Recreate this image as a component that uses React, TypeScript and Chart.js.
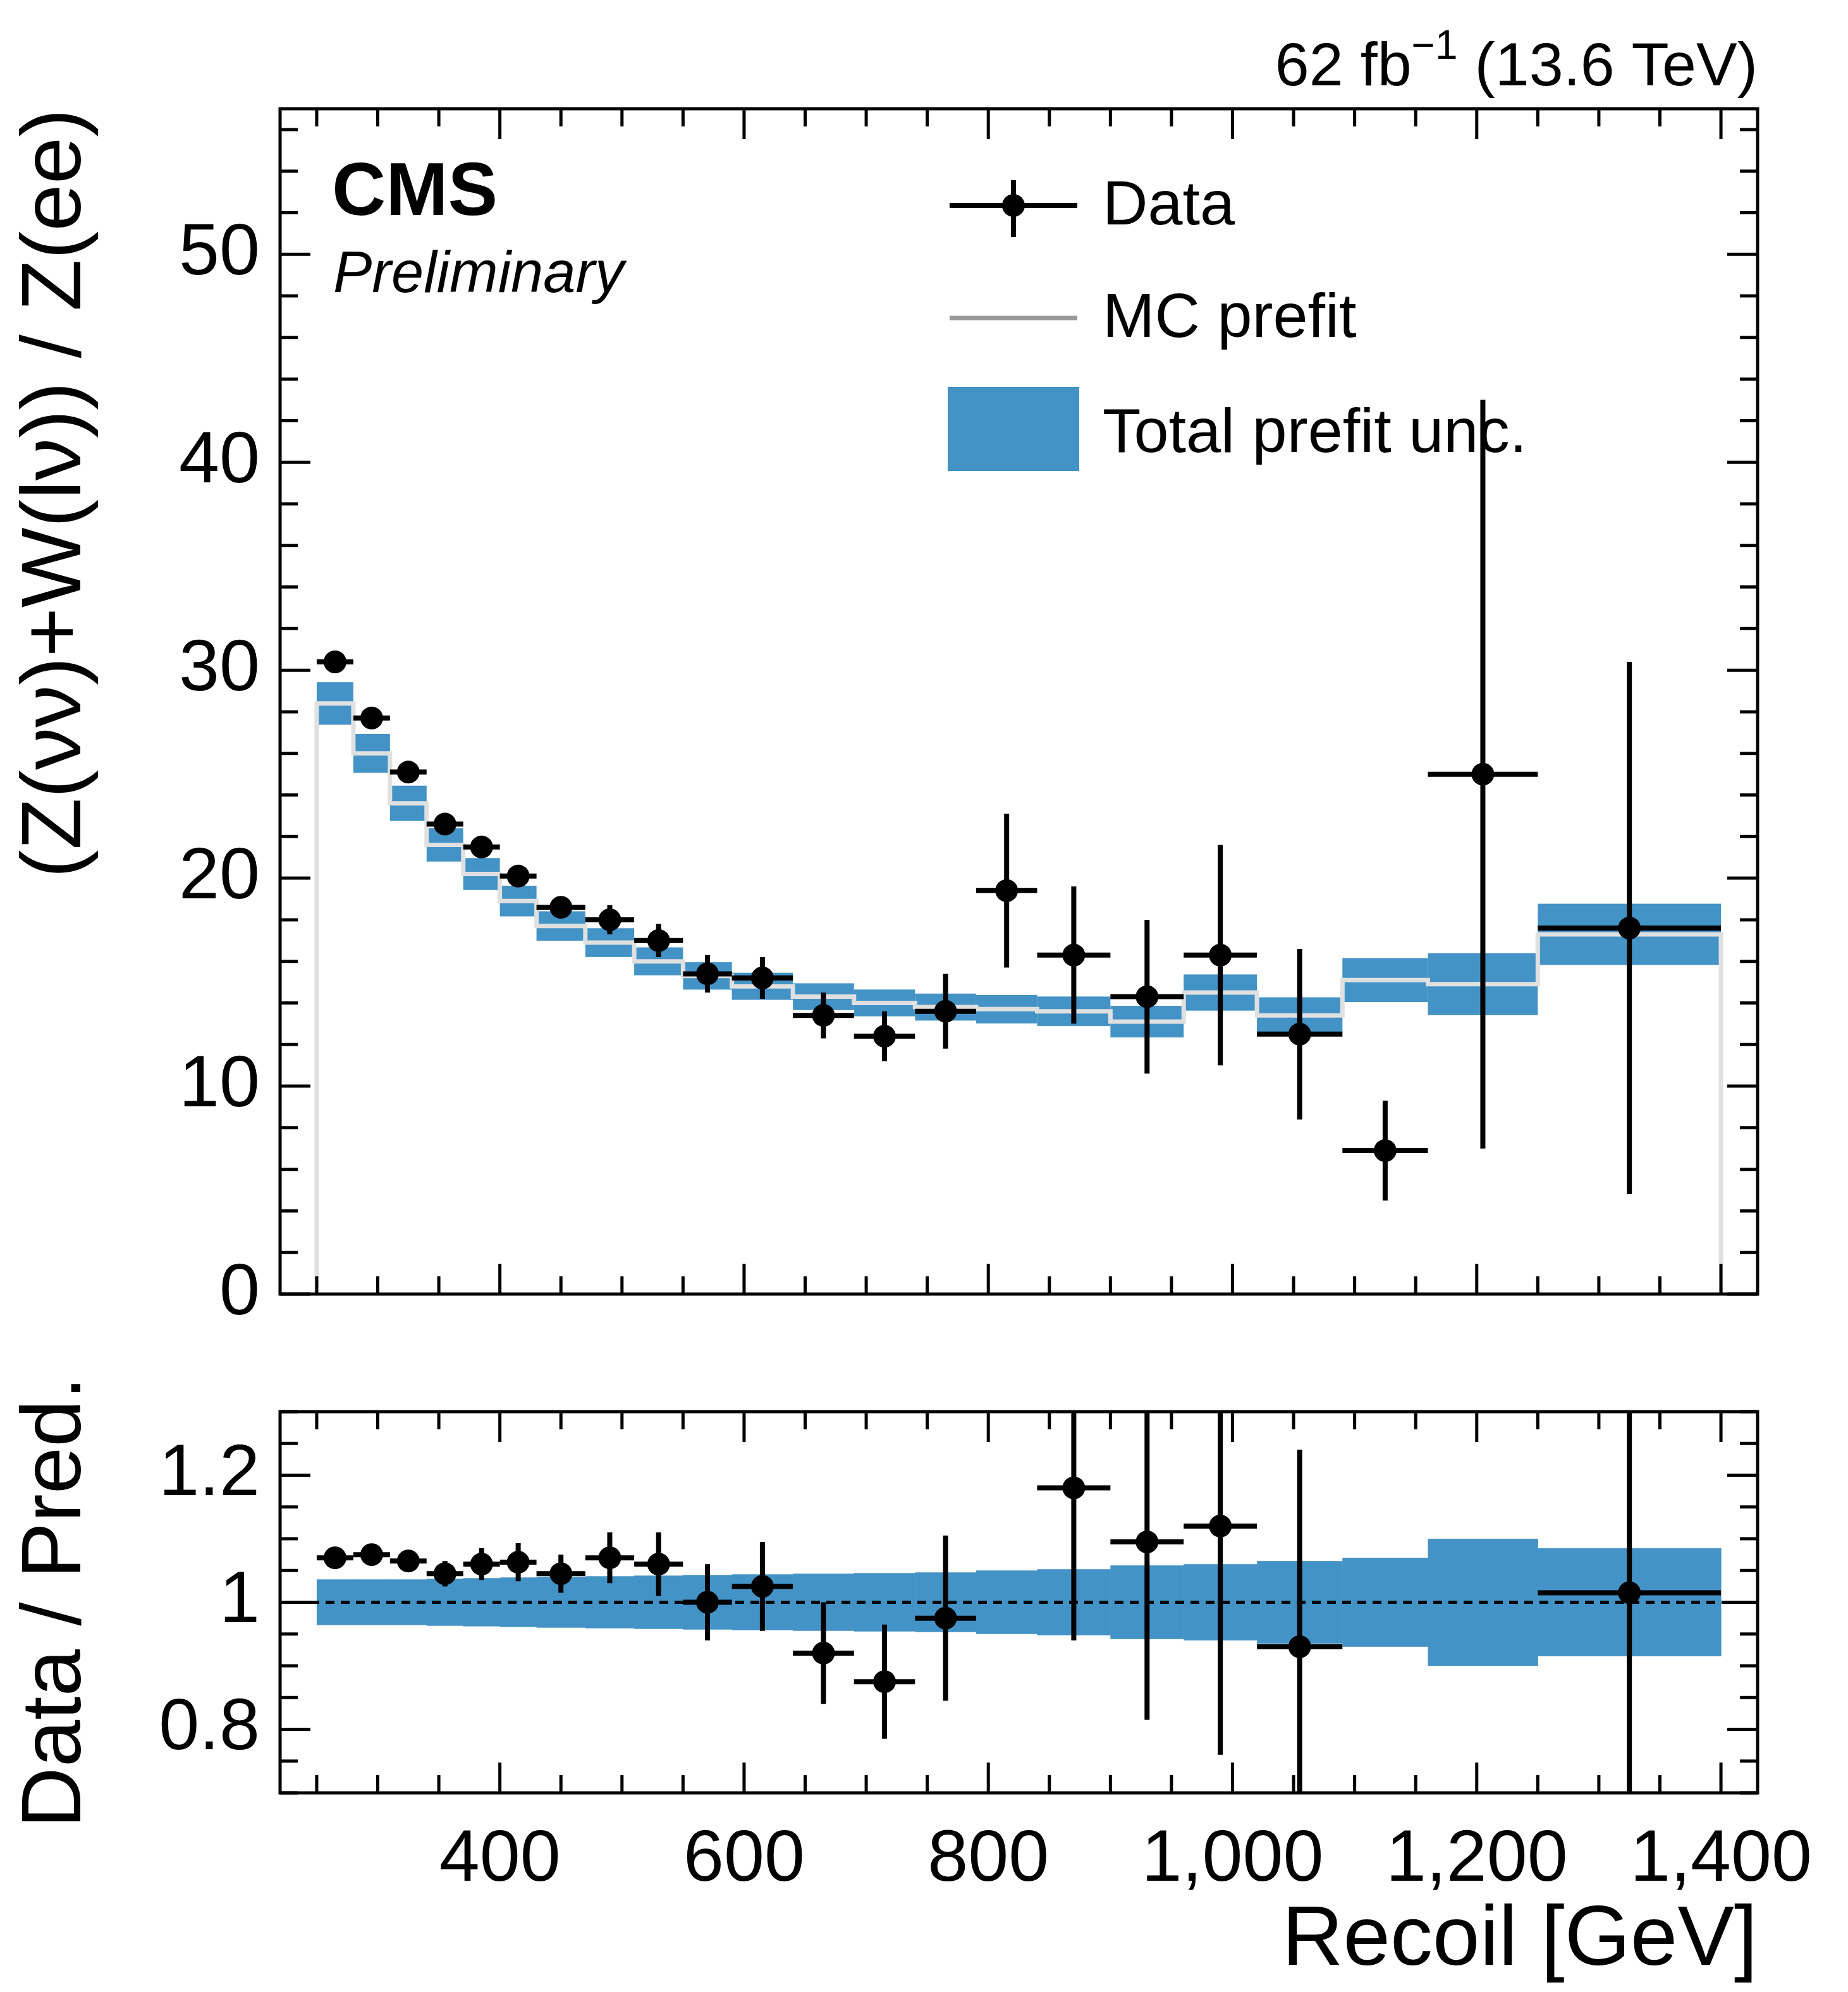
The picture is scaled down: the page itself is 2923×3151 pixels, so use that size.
import React, { useEffect, useRef } from "react";
import { Chart, registerables } from "chart.js";
Chart.register(...registerables);

const binEdges = [250, 280, 310, 340, 370, 400, 430, 470, 510, 550, 590, 640, 690, 740, 790, 840, 900, 960, 1020, 1090, 1160, 1250, 1400];
const dataValues = [30.4, 27.7, 25.1, 22.6, 21.5, 20.1, 18.6, 18.0, 17.0, 15.4, 15.2, 13.4, 12.4, 13.6, 19.4, 16.3, 14.3, 16.3, 12.5, 6.9, 25.0, 17.6];
const dataErrors = [0.3, 0.3, 0.3, 0.4, 0.4, 0.5, 0.5, 0.7, 0.8, 0.9, 1.0, 1.1, 1.2, 1.8, 3.7, 3.3, 3.7, 5.3, 4.1, 2.4, 18.0, 12.8];
const mcPrefit = [28.4, 26.0, 23.6, 21.6, 20.2, 18.9, 17.7, 16.9, 16.0, 15.3, 14.8, 14.3, 14.0, 13.8, 13.7, 13.6, 13.1, 14.5, 13.4, 15.1, 14.9, 17.3];
const relUnc = [0.036, 0.036, 0.036, 0.037, 0.038, 0.039, 0.04, 0.041, 0.042, 0.043, 0.044, 0.045, 0.046, 0.047, 0.05, 0.052, 0.058, 0.06, 0.065, 0.07, 0.1, 0.085];
const ratioValues = [1.07, 1.075, 1.065, 1.045, 1.06, 1.063, 1.045, 1.07, 1.06, 1.0, 1.025, 0.92, 0.875, 0.975, null, 1.18, 1.095, 1.12, 0.93, null, null, 1.015];
const ratioErrors = [0.01, 0.01, 0.012, 0.02, 0.025, 0.03, 0.03, 0.04, 0.05, 0.06, 0.07, 0.08, 0.09, 0.13, 0, 0.24, 0.28, 0.36, 0.31, 0, 0, 0.72];
const upperTicks = [0, 10, 20, 30, 40, 50];
const lowerTicks = [0.8, 1.0, 1.2];
const xTicks = [400, 600, 800, 1000, 1200, 1400];

const W = 2923, H = 3151;
const LEFT = 443, RIGHT_PAD = 143;
const UP_TOP = 172, SPLIT = 2140;
const UP_XH = 45, LO_PADTOP = 34, LO_XH = 315;
const FONT = "'Liberation Sans', Arial, sans-serif";
const BLUE = "#4393c6";

function frameTicks(chart: any, xMinor: number, xMajor: number, yMinor: number, yMajor: number) {
  const ctx = chart.ctx, a = chart.chartArea, xs = chart.scales.x, ys = chart.scales.y;
  ctx.save();
  ctx.strokeStyle = "#000";
  ctx.lineWidth = 5;
  const eps = 1e-6;
  for (let v = Math.ceil(xs.min / xMinor) * xMinor; v <= xs.max + eps; v += xMinor) {
    const px = xs.getPixelForValue(v);
    const major = Math.abs(v / xMajor - Math.round(v / xMajor)) < eps;
    const len = major ? 48 : 28;
    ctx.beginPath(); ctx.moveTo(px, a.bottom); ctx.lineTo(px, a.bottom - len);
    ctx.moveTo(px, a.top); ctx.lineTo(px, a.top + len); ctx.stroke();
  }
  for (let v = Math.ceil(ys.min / yMinor - eps) * yMinor; v <= ys.max + eps; v += yMinor) {
    const py = ys.getPixelForValue(v);
    const major = Math.abs(v / yMajor - Math.round(v / yMajor)) < 1e-4;
    const len = major ? 48 : 28;
    ctx.beginPath(); ctx.moveTo(a.left, py); ctx.lineTo(a.left + len, py);
    ctx.moveTo(a.right, py); ctx.lineTo(a.right - len, py); ctx.stroke();
  }
  ctx.strokeRect(a.left, a.top, a.right - a.left, a.bottom - a.top);
  ctx.restore();
}

function drawErrors(chart: any, vals: (number | null)[], errs: number[]) {
  const ctx = chart.ctx, xs = chart.scales.x, ys = chart.scales.y, a = chart.chartArea;
  ctx.save();
  ctx.beginPath(); ctx.rect(a.left, a.top, a.right - a.left, a.bottom - a.top); ctx.clip();
  ctx.strokeStyle = "#000"; ctx.fillStyle = "#000"; ctx.lineWidth = 8;
  vals.forEach((v, i) => {
    if (v === null) return;
    const x0 = xs.getPixelForValue(binEdges[i]), x1 = xs.getPixelForValue(binEdges[i + 1]);
    const xc = xs.getPixelForValue((binEdges[i] + binEdges[i + 1]) / 2);
    const y = ys.getPixelForValue(v);
    ctx.beginPath();
    ctx.moveTo(x0, y); ctx.lineTo(x1, y);
    ctx.moveTo(xc, ys.getPixelForValue(v - errs[i])); ctx.lineTo(xc, ys.getPixelForValue(v + errs[i]));
    ctx.stroke();
    ctx.beginPath(); ctx.arc(xc, y, 18, 0, Math.PI * 2); ctx.fill();
  });
  ctx.restore();
}

const upperPlugin = {
  id: "upperDraw",
  beforeDatasetsDraw(chart: any) {
    const ctx = chart.ctx, xs = chart.scales.x, ys = chart.scales.y;
    ctx.save();
    ctx.fillStyle = BLUE;
    mcPrefit.forEach((m, i) => {
      const x0 = xs.getPixelForValue(binEdges[i]), x1 = xs.getPixelForValue(binEdges[i + 1]);
      const yt = ys.getPixelForValue(m * (1 + relUnc[i])), yb = ys.getPixelForValue(m * (1 - relUnc[i]));
      ctx.fillRect(x0, yt, x1 - x0, yb - yt);
    });
    ctx.restore();
  },
  afterDatasetsDraw(chart: any) {
    drawErrors(chart, dataValues, dataErrors);
    frameTicks(chart, 50, 200, 2, 10);
    const ctx = chart.ctx, a = chart.chartArea;
    ctx.save();
    ctx.fillStyle = "#000";
    ctx.textBaseline = "alphabetic";
    ctx.font = `bold 118px ${FONT}`;
    ctx.fillText("CMS", 525, 340);
    ctx.font = `italic 92px ${FONT}`;
    ctx.fillText("Preliminary", 527, 462);
    const t1 = "62 fb", t3 = " (13.6 TeV)";
    ctx.font = `64px ${FONT}`;
    const wsup = ctx.measureText("\u22121").width;
    ctx.font = `97px ${FONT}`;
    const w1 = ctx.measureText(t1).width, w3 = ctx.measureText(t3).width;
    let x = a.right - (w1 + wsup + w3);
    const by = 135;
    ctx.fillText(t1, x, by); x += w1;
    ctx.font = `64px ${FONT}`; ctx.fillText("\u22121", x, by - 42); x += wsup;
    ctx.font = `97px ${FONT}`; ctx.fillText(t3, x, by);
    const lx0 = 1502, lx1 = 1704, tx = 1744;
    ctx.strokeStyle = "#000"; ctx.lineWidth = 8;
    ctx.beginPath(); ctx.moveTo(lx0, 325); ctx.lineTo(lx1, 325);
    ctx.moveTo((lx0 + lx1) / 2, 285); ctx.lineTo((lx0 + lx1) / 2, 375); ctx.stroke();
    ctx.beginPath(); ctx.arc((lx0 + lx1) / 2, 325, 18, 0, Math.PI * 2); ctx.fill();
    ctx.strokeStyle = "#999"; ctx.lineWidth = 7;
    ctx.beginPath(); ctx.moveTo(lx0, 503); ctx.lineTo(lx1, 503); ctx.stroke();
    ctx.fillStyle = BLUE; ctx.fillRect(lx0 - 3, 612, 208, 133);
    ctx.fillStyle = "#000"; ctx.font = `99px ${FONT}`; ctx.textBaseline = "middle";
    ctx.fillText("Data", tx, 328);
    ctx.fillText("MC prefit", tx, 506);
    ctx.fillText("Total prefit unc.", tx, 688);
    ctx.restore();
  },
};

const lowerPlugin = {
  id: "lowerDraw",
  beforeDatasetsDraw(chart: any) {
    const ctx = chart.ctx, xs = chart.scales.x, ys = chart.scales.y, a = chart.chartArea;
    ctx.save();
    ctx.fillStyle = BLUE;
    relUnc.forEach((r, i) => {
      const x0 = xs.getPixelForValue(binEdges[i]), x1 = xs.getPixelForValue(binEdges[i + 1]);
      const yt = ys.getPixelForValue(1 + r), yb = ys.getPixelForValue(1 - r);
      ctx.fillRect(x0, yt, x1 - x0 + 0.5, yb - yt);
    });
    ctx.strokeStyle = "#000"; ctx.lineWidth = 5; ctx.setLineDash([14, 10]);
    const y1 = ys.getPixelForValue(1);
    ctx.beginPath(); ctx.moveTo(a.left, y1); ctx.lineTo(a.right, y1); ctx.stroke();
    ctx.restore();
  },
  afterDatasetsDraw(chart: any) {
    drawErrors(chart, ratioValues, ratioErrors);
    frameTicks(chart, 50, 200, 0.05, 0.2);
  },
};

const stepX: number[] = [];
const stepY: number[] = [];
stepX.push(binEdges[0]); stepY.push(0);
mcPrefit.forEach((m, i) => { stepX.push(binEdges[i]); stepY.push(m); stepX.push(binEdges[i + 1]); stepY.push(m); });
stepX.push(binEdges[binEdges.length - 1]); stepY.push(0);

const tickFont = { family: FONT, size: 115 };

export default function App() {
  const upRef = useRef<HTMLCanvasElement>(null);
  const loRef = useRef<HTMLCanvasElement>(null);
  useEffect(() => {
    const up = new Chart(upRef.current!, {
      type: "line",
      data: {
        datasets: [{
          data: stepX.map((x, i) => ({ x, y: stepY[i] })),
          borderColor: "#e0e0e0", borderWidth: 7, pointRadius: 0, fill: false, tension: 0,
        }],
      },
      options: {
        responsive: false, animation: false, devicePixelRatio: 1,
        layout: { padding: { top: UP_TOP, right: RIGHT_PAD, left: 0, bottom: 0 } },
        plugins: { legend: { display: false }, tooltip: { enabled: false } },
        scales: {
          x: {
            type: "linear", min: 220, max: 1430,
            grid: { display: false }, border: { display: false },
            ticks: { display: false },
            afterFit: (s: any) => { s.height = UP_XH; },
          },
          y: {
            min: 0, max: 57,
            grid: { display: false }, border: { display: false },
            afterBuildTicks: (s: any) => { s.ticks = upperTicks.map((v) => ({ value: v })); },
            ticks: { font: tickFont, color: "#000", padding: 24 },
            title: {
              display: true, text: "(Z(\u03bd\u03bd)+W(l\u03bd)) / Z(ee)", align: "end",
              font: { family: FONT, size: 134 }, color: "#000", padding: { top: 10, bottom: 0 },
            },
            afterFit: (s: any) => { s.width = LEFT; },
          },
        },
      },
      plugins: [upperPlugin],
    });
    const lo = new Chart(loRef.current!, {
      type: "line",
      data: { datasets: [{ data: [], pointRadius: 0 }] },
      options: {
        responsive: false, animation: false, devicePixelRatio: 1,
        layout: { padding: { top: LO_PADTOP, right: RIGHT_PAD, left: 0, bottom: 0 } },
        plugins: { legend: { display: false }, tooltip: { enabled: false } },
        scales: {
          x: {
            type: "linear", min: 220, max: 1430,
            grid: { display: false }, border: { display: false },
            afterBuildTicks: (s: any) => { s.ticks = xTicks.map((v) => ({ value: v })); },
            ticks: { font: tickFont, color: "#000", padding: 30, maxRotation: 0 },
            title: {
              display: true, text: "Recoil [GeV]", align: "end",
              font: { family: FONT, size: 134 }, color: "#000", padding: { top: 0, bottom: 0 },
            },
            afterFit: (s: any) => { s.height = LO_XH; },
          },
          y: {
            min: 0.7, max: 1.3,
            grid: { display: false }, border: { display: false },
            afterBuildTicks: (s: any) => { s.ticks = lowerTicks.map((v) => ({ value: v })); },
            ticks: { font: tickFont, color: "#000", padding: 24, callback: (v: any) => String(Math.round(v * 10) / 10) },
            title: {
              display: true, text: "Data / Pred.", align: "center",
              font: { family: FONT, size: 134 }, color: "#000", padding: { top: 10, bottom: 0 },
            },
            afterFit: (s: any) => { s.width = LEFT; },
          },
        },
      },
      plugins: [lowerPlugin],
    });
    return () => { up.destroy(); lo.destroy(); };
  }, []);
  return (
    <div style={{ position: "absolute", left: 0, top: 0, width: W, height: H, background: "#fff" }}>
      <canvas ref={upRef} width={W} height={SPLIT} style={{ position: "absolute", left: 0, top: 0, width: W, height: SPLIT }} />
      <canvas ref={loRef} width={W} height={H - SPLIT} style={{ position: "absolute", left: 0, top: SPLIT, width: W, height: H - SPLIT }} />
    </div>
  );
}
